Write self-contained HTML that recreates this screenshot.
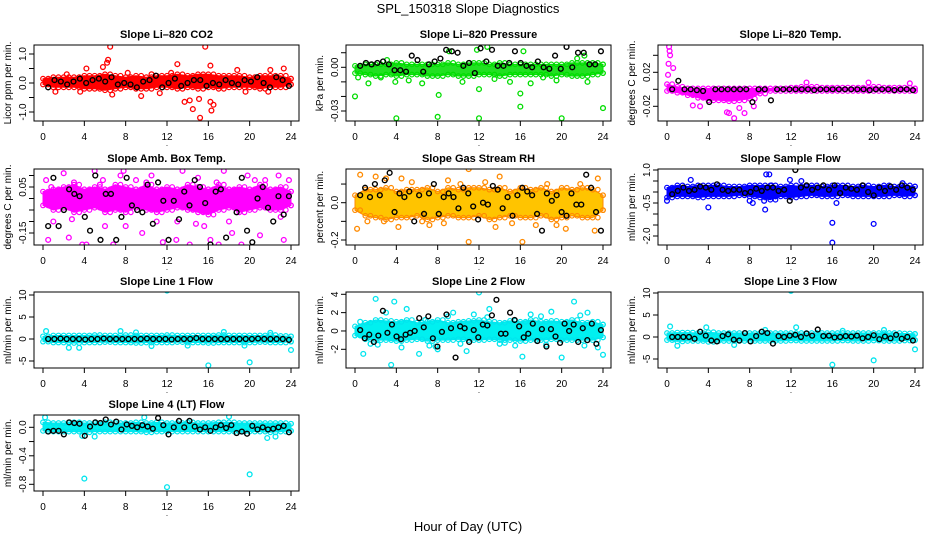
<!DOCTYPE html>
<html><head><meta charset="utf-8">
<style>
html,body{margin:0;padding:0;background:#fff;}
svg{display:block;font-family:"Liberation Sans",Arial,sans-serif;}
</style></head>
<body>
<svg id="chart" width="936" height="540" viewBox="0 0 936 540" xmlns="http://www.w3.org/2000/svg">
<text x="468" y="13" text-anchor="middle" font-size="13">SPL_150318  Slope Diagnostics</text>
<text x="468" y="531" text-anchor="middle" font-size="13">Hour of Day (UTC)</text>
</svg>
<script>
// ---------- data ----------
const xTicks = [0,4,8,12,16,20,24];

// Panel 1: CO2
const p1BandLo = [-0.05,-0.15,-0.15,-0.15,-0.2,-0.2,-0.25,-0.2,-0.15,-0.2,-0.2,-0.15,-0.15,-0.2,-0.15,-0.2,-0.15,-0.2,-0.15,-0.15,-0.15,-0.2,-0.15,-0.15,-0.05];
const p1BandHi = [0.15,0.2,0.2,0.2,0.25,0.25,0.3,0.25,0.2,0.25,0.2,0.25,0.25,0.3,0.25,0.3,0.3,0.25,0.25,0.25,0.2,0.25,0.25,0.25,0.15];
const p1PtsX = [6.5,15.7,6.2,6.3,5.8,13.0,13.7,14.2,14.5,15.2,15.1,16.2,16.5,16.3,16.2,18.8,22,23.3,4.2,9.5,11.3,6.7,2.3,21.8,1.2,3.6,8.2,10.5,19.6,12.4];
const p1PtsY = [1.25,1.25,0.7,0.8,0.55,0.65,-0.65,-0.6,-0.9,-1.2,-0.55,-0.65,-0.75,-0.95,0.6,0.45,0.45,0.5,0.5,-0.45,-0.35,-0.4,0.3,-0.3,-0.3,-0.3,0.35,0.3,-0.3,0.35];
const p1Black = [-0.15,0.1,0.05,-0.05,0.05,0.15,0.0,0.1,0.15,0.05,0.2,-0.05,0.0,-0.05,-0.15,0.05,0.1,0.25,-0.15,0.0,0.15,-0.1,0.0,0.1,0.1,-0.1,0.0,-0.05,0.1,0.0,-0.05,0.1,0.05,0.2,0.0,-0.15,0.2,0.1,-0.1];

// Panel 2: Pressure
const p2BandLo = [-0.004,-0.005,-0.006,-0.005,-0.006,-0.005,-0.005,-0.006,-0.006,-0.005,-0.006,-0.006,-0.005,-0.005,-0.006,-0.005,-0.005,-0.005,-0.005,-0.006,-0.005,-0.006,-0.006,-0.005,-0.004];
const p2BandHi = [0.001,0.002,0.002,0.002,0.003,0.002,0.002,0.002,0.002,0.003,0.002,0.003,0.003,0.002,0.003,0.002,0.002,0.002,0.002,0.002,0.002,0.003,0.003,0.003,0.002];
const p2PtsX = [0,4,8,12,16,20,24,8.1,16,1.3,6.5,15,17,9.1,11.8,12.8,16.3,3.9,12,18.2,22.5,21.5,22.2,2.5,5.2,10.4,13.5,19.5,0.3,3.1];
const p2PtsY = [-0.02,-0.035,-0.034,-0.035,-0.027,-0.035,-0.028,-0.019,-0.018,-0.011,-0.011,-0.01,-0.011,0.011,0.012,0.014,0.011,-0.01,-0.015,-0.007,-0.01,0.006,0.008,-0.007,-0.009,-0.01,-0.008,-0.009,-0.007,0.005];
const p2Black = [0.001,0.003,0.002,0.003,0.004,0.002,-0.002,-0.002,-0.003,0.008,0.005,-0.003,0.002,0.004,0.006,0.012,0.011,0.01,0.001,0.003,-0.004,0.013,0.004,0.012,0.001,0.001,0.003,0.011,0.003,0.001,0.0,0.004,0.0,-0.001,0.008,-0.001,0.014,0.0,0.01,0.01,0.002,0.002,0.011];

// Panel 3: Li-820 Temp
const p3BandLo = [-0.002,-0.004,-0.007,-0.01,-0.013,-0.013,-0.014,-0.013,-0.011,-0.005,-0.002,-0.002,-0.002,-0.002,-0.002,-0.002,-0.002,-0.002,-0.002,-0.002,-0.002,-0.002,-0.002,-0.002,-0.002];
const p3BandHi = [0.006,0.003,0.001,0.001,0.001,0.001,0.001,0.001,0.001,0.001,0.001,0.001,0.002,0.003,0.003,0.002,0.002,0.002,0.002,0.002,0.003,0.002,0.002,0.002,0.001];
const p3PtsX = [0.2,0.25,0.15,0.1,0.6,0.3,5.8,6.0,6.5,7.5,3.2,8.4,2.5,13.5,19.5,23.5,7.0];
const p3PtsY = [0.05,0.045,0.03,0.017,0.025,0.04,-0.027,-0.028,-0.034,-0.028,-0.02,-0.02,-0.019,0.008,0.008,0.007,-0.022];
const p3Black = [0.0,0.01,0,0,-0.001,-0.002,-0.015,0,0,0,0,0,0,-0.015,0,0,-0.013,0,0,0,0,0,0,-0.001,0,0,0,0,0,0,0,0,-0.001,0,0,0,-0.001,0,0,-0.001];

// Panel 4: Amb. Box Temp
const p4BandLo = [-0.03,-0.05,-0.04,-0.06,-0.05,-0.04,-0.06,-0.05,-0.06,-0.04,-0.05,-0.06,-0.05,-0.04,-0.05,-0.06,-0.07,-0.05,-0.04,-0.06,-0.05,-0.04,-0.05,-0.05,-0.03];
const p4BandHi = [0.03,0.04,0.05,0.06,0.04,0.05,0.04,0.06,0.05,0.04,0.06,0.04,0.05,0.04,0.06,0.05,0.04,0.06,0.04,0.05,0.04,0.06,0.04,0.05,0.03];
const p4PtsX = [0.3,0.5,1.8,2.5,3.8,5.0,5.5,6.8,7.5,7.8,8.5,9.6,10.5,12.3,12.9,14.2,15.0,16.2,17.0,18.3,19.2,19.8,21.0,22.2,22.8,23.3,23.8,4.2,11.6,2.0,17.5,13.5,1.0,3.0,6.0,9.0,11.0,14.8,16.8,20.5,0.8,2.8,5.8,8.0,10.0,13.0,15.6,18.0,21.5,23.0];
const p4PtsY = [0.08,-0.18,-0.22,-0.17,-0.2,0.12,0.06,-0.2,0.1,0.12,-0.22,-0.15,0.1,0.14,-0.18,-0.2,0.09,-0.18,-0.2,-0.15,-0.2,0.1,-0.16,-0.24,0.1,-0.18,0.08,-0.2,-0.19,0.11,0.12,0.12,-0.1,0.07,-0.12,0.08,-0.1,-0.11,0.07,0.08,0.05,-0.09,0.08,-0.12,0.07,-0.1,-0.12,-0.1,0.08,-0.08];
const p4Black = [-0.12,0.09,-0.12,-0.05,0.04,0.02,0.01,-0.08,-0.14,0.1,-0.18,0.02,0.02,-0.18,-0.08,0.09,-0.03,-0.05,-0.06,0.06,-0.11,0.07,-0.01,-0.18,-0.01,-0.09,0.03,-0.03,0.08,0.05,-0.02,-0.2,0.03,0.04,-0.17,0.17,-0.06,0.09,-0.14,-0.19,0.0,0.05,-0.04,-0.1,0.01,-0.07,0.01];

// Panel 5: Gas Stream RH
const p5BandLo = [-0.04,-0.07,-0.08,-0.09,-0.08,-0.08,-0.07,-0.09,-0.08,-0.07,-0.08,-0.08,-0.07,-0.09,-0.08,-0.07,-0.08,-0.08,-0.07,-0.09,-0.08,-0.07,-0.08,-0.08,-0.04];
const p5BandHi = [0.04,0.07,0.07,0.08,0.06,0.07,0.07,0.08,0.06,0.08,0.07,0.08,0.08,0.07,0.08,0.06,0.08,0.07,0.08,0.06,0.08,0.07,0.08,0.07,0.04];
const p5PtsX = [0.2,0.5,11,11,16.2,23.2,4.2,13.6,17.5,23.5,2,9,14,4.5,20.4,1.2,6.5,3,7.2,19.5,5.5,10.2,15.2,21.8,2.8,8.6,12.6,18.6];
const p5PtsY = [-0.14,0.15,0.18,-0.21,-0.21,-0.15,-0.13,-0.13,-0.12,0.13,0.14,0.12,0.14,0.13,-0.14,-0.1,-0.1,0.13,-0.12,-0.12,0.11,0.1,-0.11,0.1,-0.1,-0.11,0.11,0.1];
const p5Black = [0.04,0.08,0.03,0.1,0.04,0.12,0.16,-0.05,0.05,0.03,0.06,-0.1,0.04,-0.06,0.05,0.1,-0.06,0.03,0.05,0.03,-0.03,0.08,0.05,-0.02,-0.09,0.0,-0.01,0.09,0.07,-0.03,0.03,-0.07,0.04,0.08,0.06,0.04,-0.06,-0.15,0.05,0.01,0.04,-0.05,-0.07,0.05,-0.01,-0.01,0.15,0.08,-0.05,-0.15];

// Panel 6: Sample Flow
const p6BandLo = [-0.25,-0.2,-0.2,-0.25,-0.2,-0.2,-0.2,-0.15,-0.2,-0.25,-0.35,-0.2,-0.25,-0.2,-0.15,-0.2,-0.2,-0.15,-0.2,-0.2,-0.2,-0.2,-0.15,-0.2,-0.15];
const p6BandHi = [0.2,0.3,0.25,0.3,0.3,0.3,0.25,0.25,0.3,0.3,0.3,0.25,0.3,0.25,0.3,0.25,0.3,0.3,0.25,0.3,0.25,0.3,0.25,0.3,0.25];
const p6PtsX = [16,16,20,9.5,4,9.6,9.9,10.1,11.9,16.4,8,8.3,2.3,10.5,9.4,0,13,22.8];
const p6PtsY = [-2.3,-1.4,-1.45,-0.8,-0.7,0.8,0.8,0.3,0.55,-0.5,-0.4,-0.5,0.55,-0.2,-0.4,-0.4,0.5,0.4];
const p6Black = [-0.1,0.05,0.2,0.05,0.1,0.25,0.2,0.1,0.35,0.1,0.05,0.1,0.1,-0.05,0.0,0.15,0.05,0.2,0.2,0.05,0.1,-0.4,1.0,0.2,0.3,0.1,0.2,0.3,0.1,0.3,-0.05,0.2,0.15,0.1,0.3,0.0,-0.15,0.2,0.05,0.25,0.1,0.3,0.2,0.1];

// Panel 7: Line 1 Flow
const p7BandLo = [-0.6,-0.8,-0.8,-0.9,-0.8,-0.8,-0.7,-0.8,-0.8,-0.9,-0.8,-0.8,-0.8,-0.7,-0.8,-0.8,-0.9,-0.8,-0.8,-0.8,-0.8,-0.7,-0.8,-0.8,-0.6];
const p7BandHi = [0.6,0.8,0.8,0.8,0.8,0.9,0.8,0.8,0.9,0.8,0.8,0.8,0.9,0.8,0.8,0.8,0.8,0.9,0.8,0.8,0.8,0.8,0.9,0.7,0.6];
const p7PtsX = [12,16,20,24,2.5,3.5,0.3,7.5,9,17.5,10.5,14,19.5,22];
const p7PtsY = [11,-6,-5.3,-2.5,-2,-2,1.8,1.8,1.5,1.6,-1.6,-1.5,-1.5,1.4];
const p7Black = [0,0,0.1,0,0,0,-0.1,0,0,0.1,0,0,0,0,0,0,0.1,0,0,0,-0.1,0,0,0,0.2,0,0,0,0,0,0,0,0,0,0.1,0,0,0,0,-0.2];

// Panel 8: Line 2 Flow
const p8BandLo = [-0.5,-0.9,-1.0,-1.0,-1.1,-1.0,-0.9,-1.1,-1.0,-1.0,-0.9,-1.0,-1.0,-0.9,-1.0,-1.0,-1.1,-1.0,-1.0,-0.9,-1.0,-1.0,-1.0,-1.0,-0.7];
const p8BandHi = [0.5,0.9,1.2,1.1,1.0,1.2,0.9,1.0,1.2,0.9,1.0,1.1,1.2,1.0,0.9,1.1,1.0,1.2,1.0,1.1,1.0,1.2,0.9,1.0,0.7];
const p8PtsX = [3.5,2,3.8,12,16.2,20,24,0.8,6.2,8,9.5,13,19,22.5,21.2,5,0.5,7.8,10.8,14.5,17,18.5,23.5,11.5,2.2,6.8,1.5,4.5,9.0,12.8,15.5,21.8,3.0,7.2,10.2,14.0,18.0,22.2];
const p8PtsY = [-3.7,3.5,3.2,4.2,-2.8,-2.9,-2.6,-2.5,-2.5,-2,2.0,2.4,2.1,2.0,3.2,2.4,1.0,-1.7,-2.2,-1.3,1.8,-1.5,-1.8,1.8,-1.5,1.2,-1.4,-1.8,1.6,1.5,-1.6,1.7,2.0,-1.6,-1.4,-1.4,1.6,-1.6];
const p8Black = [0.1,-0.8,-0.4,-1.2,-0.5,2.2,-0.2,0.7,-0.6,-0.9,-0.4,-0.2,0.0,1.4,0.4,1.6,-0.8,-1.7,-0.1,1.8,0.3,-2.9,0.5,0.3,-1.2,0.1,-0.7,0.7,0.6,1.7,3.4,-0.3,-0.3,2.0,1.2,0.5,-0.7,-0.3,0.8,-1.1,0.2,-1.7,0.2,-0.6,-1.3,0.8,0.0,0.7,-1.2,0.3,-1.0,0.8,-1.4,0.1];

// Panel 9: Line 3 Flow
const p9BandLo = [-0.7,-1.0,-0.9,-0.9,-1.1,-0.9,-0.9,-0.9,-0.9,-0.9,-0.9,-0.9,-0.8,-0.9,-0.9,-0.9,-0.9,-0.8,-0.9,-0.9,-0.8,-0.9,-0.9,-0.8,-0.7];
const p9BandHi = [0.9,1.0,1.0,0.9,1.1,0.9,0.9,0.9,0.9,0.9,0.9,0.9,0.9,0.9,0.9,0.9,0.9,0.9,0.9,0.9,0.9,0.9,0.9,0.8,0.7];
const p9PtsX = [12,16,20,24,0.3,1,3.8,6.5,12.5,21,17,9.5];
const p9PtsY = [10.5,-6.3,-5.3,-2.8,2.4,-2,2.2,-1.8,2.2,1.6,1.4,1.6];
const p9Black = [0,0,0,0,-0.4,1.2,0.3,-0.8,-1.0,0.2,0.6,-0.6,-0.8,0.9,-1.0,0.2,1.2,0.9,-1.5,0.2,0.0,0.3,0.5,0.0,0.8,0.3,1.7,0.2,0.3,-0.1,0,0.2,0.1,0.3,-0.3,0,0.4,-0.5,0.1,-0.3,0.5,-0.4,0,-0.8];

// Panel 10: Line 4 (LT) Flow
const p10BandLo = [-0.05,-0.06,-0.06,-0.06,-0.07,-0.06,-0.06,-0.06,-0.06,-0.06,-0.07,-0.06,-0.06,-0.06,-0.06,-0.06,-0.06,-0.06,-0.06,-0.06,-0.06,-0.06,-0.07,-0.06,-0.05];
const p10BandHi = [0.07,0.06,0.06,0.07,0.06,0.06,0.07,0.06,0.06,0.07,0.06,0.07,0.06,0.06,0.07,0.06,0.06,0.07,0.07,0.06,0.06,0.06,0.06,0.06,0.05];
const p10PtsX = [4,12,20,0.2,18,21.7,22.5,9.8,3.8,5];
const p10PtsY = [-0.72,-0.84,-0.66,0.14,0.15,-0.15,-0.13,0.14,-0.12,-0.13];
const p10Black = [-0.06,-0.05,-0.05,-0.1,0.07,0.06,0.05,-0.12,0.01,0.07,0.06,0.11,0.04,0.08,-0.03,0.04,0.02,0.0,0.03,0.01,-0.02,0.13,0.03,-0.1,0.0,0.09,0.0,0.09,0.01,-0.03,0.0,-0.05,0.0,0.03,-0.01,0.03,-0.08,-0.06,-0.09,0.02,-0.03,0.0,-0.03,-0.02,0.0,0.02,-0.07];

// ---------- layout (pixel config, not data) ----------
const colLeft = [34,346,658];
const rowTop = [45,169,292,415];
const boxW = 265, boxH = 76;

const panels = [
 {name:'co2',title:'Slope Li\u2013820 CO2',ylab:'Licor ppm per min.',r:0,c:0,v1:1,p1:54,v2:-1,p2:112,ticks:[-1,-0.5,0,0.5,1],labs:[[1,'1.0'],[0,'0.0'],[-1,'-1.0']],col:'#ff0000',fill:'#ff0000',lo:p1BandLo,hi:p1BandHi,px:p1PtsX,py:p1PtsY,bk:p1Black},
 {name:'pressure',title:'Slope Li\u2013820 Pressure',ylab:'kPa per min.',r:0,c:1,v1:0,p1:67.3,v2:-0.03,p2:111,ticks:[-0.03,-0.02,-0.01,0,0.01],labs:[[0,'0.00'],[-0.03,'-0.03']],col:'#00dd00',fill:'#22e022',lo:p2BandLo,hi:p2BandHi,px:p2PtsX,py:p2PtsY,bk:p2Black},
 {name:'li820-temp',title:'Slope Li\u2013820 Temp.',ylab:'degrees C per min.',r:0,c:2,v1:0.02,p1:72.3,v2:-0.02,p2:106.3,ticks:[-0.02,0,0.02,0.04],labs:[[0.02,'0.02'],[-0.02,'-0.02']],col:'#ff00ff',fill:'#ff00ff',lo:p3BandLo,hi:p3BandHi,px:p3PtsX,py:p3PtsY,bk:p3Black},
 {name:'amb-box-temp',title:'Slope Amb. Box Temp.',ylab:'degrees C per min.',r:1,c:0,v1:0.05,p1:187,v2:-0.15,p2:233,ticks:[-0.15,-0.1,-0.05,0,0.05,0.1],labs:[[0.05,'0.05'],[-0.15,'-0.15']],col:'#ff00ff',fill:'#ff00ff',lo:p4BandLo,hi:p4BandHi,px:p4PtsX,py:p4PtsY,bk:p4Black},
 {name:'gas-stream-rh',title:'Slope Gas Stream RH',ylab:'percent per min.',r:1,c:1,v1:0,p1:202.7,v2:-0.2,p2:240,ticks:[-0.2,-0.1,0,0.1],labs:[[0,'0.0'],[-0.2,'-0.2']],col:'#ff8a00',fill:'#ffc400',lo:p5BandLo,hi:p5BandHi,px:p5PtsX,py:p5PtsY,bk:p5Black},
 {name:'sample-flow',title:'Slope Sample Flow',ylab:'ml/min per min.',r:1,c:2,v1:1,p1:170,v2:-2,p2:236,ticks:[-2,-1.5,-1,-0.5,0,0.5,1],labs:[[1,'1.0'],[-0.5,'-0.5'],[-2,'-2.0']],col:'#0000ff',fill:'#0000ff',lo:p6BandLo,hi:p6BandHi,px:p6PtsX,py:p6PtsY,bk:p6Black},
 {name:'line1-flow',title:'Slope Line 1 Flow',ylab:'ml/min per min.',r:2,c:0,v1:10,p1:295,v2:0,p2:339,ticks:[-5,0,5,10],labs:[[10,'10'],[5,'5'],[0,'0'],[-5,'-5']],col:'#00e5ee',fill:'#00f0f0',lo:p7BandLo,hi:p7BandHi,px:p7PtsX,py:p7PtsY,bk:p7Black},
 {name:'line2-flow',title:'Slope Line 2 Flow',ylab:'ml/min per min.',r:2,c:1,v1:4,p1:294.3,v2:-2,p2:349.3,ticks:[-2,0,2,4],labs:[[4,'4'],[2,'2'],[0,'0'],[-2,'-2']],col:'#00e5ee',fill:'#00f0f0',lo:p8BandLo,hi:p8BandHi,px:p8PtsX,py:p8PtsY,bk:p8Black},
 {name:'line3-flow',title:'Slope Line 3 Flow',ylab:'ml/min per min.',r:2,c:2,v1:10,p1:293,v2:-5,p2:359,ticks:[-5,0,5,10],labs:[[10,'10'],[5,'5'],[0,'0'],[-5,'-5']],col:'#00e5ee',fill:'#00f0f0',lo:p9BandLo,hi:p9BandHi,px:p9PtsX,py:p9PtsY,bk:p9Black},
 {name:'line4-flow',title:'Slope Line 4 (LT) Flow',ylab:'ml/min per min.',r:3,c:0,v1:0,p1:427.3,v2:-0.8,p2:484.3,ticks:[-0.8,-0.6,-0.4,-0.2,0],labs:[[0,'0.0'],[-0.4,'-0.4'],[-0.8,'-0.8']],col:'#00e5ee',fill:'#00f0f0',lo:p10BandLo,hi:p10BandHi,px:p10PtsX,py:p10PtsY,bk:p10Black}
];

const NS='http://www.w3.org/2000/svg';
const svg=document.getElementById('chart');
function mk(tag,attrs,parent){const e=document.createElementNS(NS,tag);for(const k in attrs)e.setAttribute(k,attrs[k]);(parent||svg).appendChild(e);return e;}

panels.forEach((p,pi)=>{
  const L=colLeft[p.c], T=rowTop[p.r];
  const xs=h=>L+9+h*(248/24);
  const ys=v=>p.p1+(v-p.v1)*(p.p2-p.p1)/(p.v2-p.v1);
  const g=mk('g',{});
  
  
  const clipId='clip'+pi;
  const cp=mk('clipPath',{id:clipId},g);
  mk('rect',{x:L,y:T,width:boxW,height:boxH},cp);
  const plot=mk('g',{'clip-path':'url(#'+clipId+')'},g);
  
  
  let d='';
  p.hi.forEach((v,i)=>{d+=(i?'L':'M')+xs(i).toFixed(1)+','+ys(v).toFixed(1);});
  for(let i=p.lo.length-1;i>=0;i--){d+='L'+xs(i).toFixed(1)+','+ys(p.lo[i]).toFixed(1);}
  d+='Z';
  const band=mk('path',{d:d,fill:p.fill,stroke:p.col,'stroke-width':1,'stroke-linejoin':'round'},plot);
  
  
  const edge=(arr)=>arr.forEach((v,i)=>{
    for(let k=0;k<2;k++){
      const h=Math.min(24,i+k*0.5);
      const c=mk('circle',{cx:xs(h),cy:ys(v),r:2.3,fill:'none',stroke:p.col,'stroke-width':1.2},plot);
      
      
    }
  });
  edge(p.hi); edge(p.lo);
  p.px.forEach((h,i)=>{
    const c=mk('circle',{cx:xs(h),cy:ys(p.py[i]),r:2.4,fill:'none',stroke:p.col,'stroke-width':1.3},plot);
    
    
  });
  const n=p.bk.length;
  p.bk.forEach((v,i)=>{
    const h=0.5+i*23.3/(n-1);
    const c=mk('circle',{cx:xs(h),cy:ys(v),r:2.4,fill:'none',stroke:'#000','stroke-width':1.4},plot);
    
    
  });
  const box=mk('rect',{x:L,y:T,width:boxW,height:boxH,fill:'none',stroke:'#000','stroke-width':1},g);
  
  
  xTicks.forEach(t=>{
    const ln=mk('line',{x1:xs(t),x2:xs(t),y1:T+boxH,y2:T+boxH+5,stroke:'#000'},g);
    
    
    const tx=mk('text',{x:xs(t),y:T+boxH+19,'text-anchor':'middle','font-size':10},g);
    
    
    tx.textContent=t;
  });
  const dot=mk('text',{x:xs(12),y:T+boxH+25,'text-anchor':'middle','font-size':8},g);
  
  
  dot.textContent='.';
  p.ticks.forEach(t=>{
    const y=ys(t);
    const ln=mk('line',{x1:L-5,x2:L,y1:y,y2:y,stroke:'#000'},g);
    
    
  });
  p.labs.forEach(lb=>{
    const y=ys(lb[0]);
    const tx=mk('text',{x:0,y:0,'text-anchor':'middle','font-size':10,transform:'translate('+(L-8)+','+y+') rotate(-90)'},g);
    
    
    tx.textContent=lb[1];
  });
  const yt=mk('text',{x:0,y:0,'text-anchor':'middle','font-size':10,transform:'translate('+(L-23)+','+(T+boxH/2)+') rotate(-90)'},g);
  
  
  yt.textContent=p.ylab;
  const ti=mk('text',{x:L+boxW/2,y:T-7,'text-anchor':'middle','font-size':11,'font-weight':'bold'},g);
  
  
  ti.textContent=p.title;
});
</script>
</body></html>
